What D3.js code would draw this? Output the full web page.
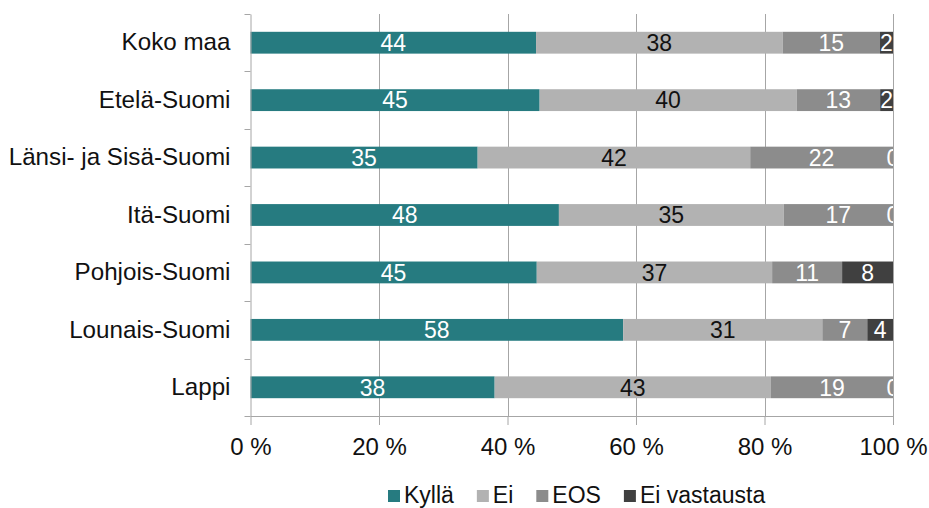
<!DOCTYPE html>
<html>
<head>
<meta charset="utf-8">
<script src="https://cdn.jsdelivr.net/npm/d3@7/dist/d3.min.js"></script>
<style>
  html, body { margin: 0; padding: 0; background: #fff; }
  svg { display: block; font-family: "Liberation Sans", Arial, sans-serif; }
</style>
</head>
<body>
<svg id="chart" width="929" height="508"></svg>
<script>
const categories = ["Koko maa", "Etelä-Suomi", "Länsi- ja Sisä-Suomi", "Itä-Suomi", "Pohjois-Suomi", "Lounais-Suomi", "Lappi"];
const seriesNames = ["Kyllä", "Ei", "EOS", "Ei vastausta"];
const kylla = [44, 45, 35, 48, 45, 58, 38];
const ei = [38, 40, 42, 35, 37, 31, 43];
const eos = [15, 13, 22, 17, 11, 7, 19];
const eiVastausta = [2, 2, 0, 0, 8, 4, 0];
const tickValues = [0, 0.2, 0.4, 0.6, 0.8, 1.0];
const tickLabels = ["0 %", "20 %", "40 %", "60 %", "80 %", "100 %"];
const colors = ["#267B80", "#B2B2B2", "#8C8C8C", "#404040"];
const labelColors = ["#ffffff", "#111111", "#ffffff", "#ffffff"];

const rows = categories.map((c, i) => ({
  cat: c, "Kyllä": kylla[i], "Ei": ei[i], "EOS": eos[i], "Ei vastausta": eiVastausta[i]
}));
const stack = d3.stack().keys(seriesNames).offset(d3.stackOffsetExpand);
const series = stack(rows);

const svg = d3.select("#chart");
const pLeft = 250.5, pRight = 893, pTop = 14, pBottom = 416;

const x = d3.scaleLinear().domain([0, 1]).range([pLeft, pRight]);
const y = d3.scaleBand().domain(categories).range([pTop, pBottom]).paddingInner(0.62).paddingOuter(0.31);

svg.append("defs").append("clipPath").attr("id", "plotclip")
  .append("rect").attr("x", pLeft).attr("y", pTop).attr("width", pRight - pLeft).attr("height", pBottom - pTop);

// gridlines
svg.append("g").selectAll("line").data(tickValues.slice(1)).join("line")
  .attr("x1", d => Math.round(x(d)) + 0.5).attr("x2", d => Math.round(x(d)) + 0.5)
  .attr("y1", pTop).attr("y2", pBottom)
  .attr("stroke", "#A6A6A6").attr("stroke-width", 1);

// bars
const g = svg.append("g");
series.forEach((s, si) => {
  g.append("g").selectAll("rect").data(s).join("rect")
    .attr("x", d => x(d[0]))
    .attr("y", d => y(d.data.cat))
    .attr("width", d => Math.max(0, x(d[1]) - x(d[0])))
    .attr("height", y.bandwidth())
    .attr("fill", colors[si]);
});

// labels
const lg = svg.append("g").attr("clip-path", "url(#plotclip)");
series.forEach((s, si) => {
  lg.append("g").selectAll("text").data(s).join("text")
    .attr("x", d => (x(d[0]) + x(d[1])) / 2)
    .attr("y", d => y(d.data.cat) + y.bandwidth() / 2)
    .attr("dy", "0.36em")
    .attr("text-anchor", "middle")
    .attr("font-size", 23)
    .attr("fill", labelColors[si])
    .text(d => d.data[s.key]);
});

// x axis
const xAxis = d3.axisBottom(x).tickValues(tickValues).tickSize(9).tickSizeOuter(0)
  .tickFormat((d, i) => tickLabels[i]);
const xg = svg.append("g").attr("transform", `translate(0,${pBottom})`).call(xAxis);
xg.select(".domain").attr("stroke", "#A6A6A6");
xg.selectAll(".tick line").attr("stroke", "#A6A6A6");
xg.selectAll(".tick text").attr("font-size", 24).attr("fill", "#111").attr("y", 22)
  .attr("dy", "0.71em").attr("font-family", "Liberation Sans, Arial, sans-serif");

// y axis
const yAxis = d3.axisLeft(y).tickSize(0).tickPadding(20);
const yg = svg.append("g").attr("transform", `translate(${pLeft},0)`).call(yAxis);
yg.select(".domain").attr("stroke", "#A6A6A6");
yg.selectAll(".tick text").attr("font-size", 24.2).attr("fill", "#111")
  .attr("font-family", "Liberation Sans, Arial, sans-serif");
const bounds = categories.map(c => y(c) - y.step() * y.paddingInner() / 2).concat([pBottom]);
yg.append("g").selectAll("line").data(bounds).join("line")
  .attr("x1", -6).attr("x2", 0)
  .attr("y1", d => Math.round(d) + 0.5).attr("y2", d => Math.round(d) + 0.5)
  .attr("stroke", "#A6A6A6");

// legend
const legend = svg.append("g");
const items = legend.selectAll("g").data(seriesNames).join("g");
items.append("rect").attr("width", 12).attr("height", 12).attr("y", -6)
  .attr("fill", (d, i) => colors[i]);
items.append("text").attr("x", 16).attr("y", 7).attr("font-size", 23)
  .attr("fill", "#111").text(d => d);
const gap = 23;
const widths = [];
items.each(function () {
  widths.push(16 + this.querySelector("text").getComputedTextLength());
});
let start = 388;
items.attr("transform", (d, i) => {
  const tx = start;
  start += widths[i] + gap;
  return `translate(${tx},496)`;
});
</script>
</body>
</html>
